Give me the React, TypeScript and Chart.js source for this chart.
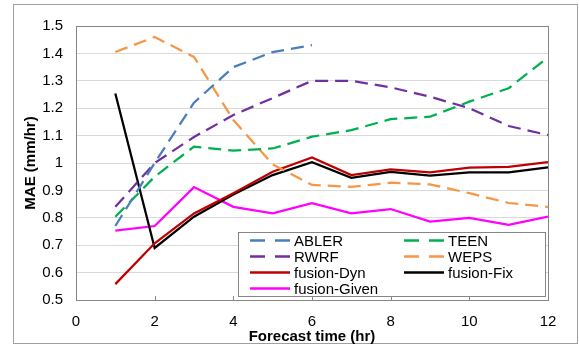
import React, { useEffect, useRef } from "react";
import { Chart, registerables } from "chart.js";

Chart.register(...registerables);

const hours = [1, 2, 3, 4, 5, 6, 7, 8, 9, 10, 11, 12];
const ablerValues = [0.77, 1.0, 1.22, 1.35, 1.405, 1.43];
const teenValues = [0.804, 0.95, 1.06, 1.045, 1.053, 1.096, 1.12, 1.16, 1.169, 1.224, 1.273, 1.386];
const rwrfValues = [0.84, 1.0, 1.095, 1.175, 1.237, 1.3, 1.3, 1.276, 1.242, 1.2, 1.135, 1.102];
const wepsValues = [1.405, 1.46, 1.387, 1.157, 0.995, 0.92, 0.913, 0.928, 0.922, 0.89, 0.854, 0.84];
const dynValues = [0.558, 0.707, 0.816, 0.89, 0.968, 1.02, 0.956, 0.977, 0.966, 0.983, 0.986, 1.003];
const fixValues = [1.254, 0.69, 0.804, 0.885, 0.956, 1.003, 0.946, 0.968, 0.954, 0.966, 0.966, 0.984];
const givenValues = [0.753, 0.77, 0.912, 0.84, 0.816, 0.853, 0.816, 0.832, 0.786, 0.8, 0.774, 0.804];

const seriesNames = ["ABLER", "TEEN", "RWRF", "WEPS", "fusion-Dyn", "fusion-Fix", "fusion-Given"];
const seriesColors = ["#4a7ebb", "#00b050", "#7030a0", "#f79646", "#c00000", "#000000", "#ff00ff"];
const seriesDashed = [true, true, true, true, false, false, false];
const seriesValues = [ablerValues, teenValues, rwrfValues, wepsValues, dynValues, fixValues, givenValues];

const xTicks = [0, 2, 4, 6, 8, 10, 12];
const FONT = "'Liberation Sans', Arial, sans-serif";

export default function App() {
  const ref = useRef<HTMLCanvasElement | null>(null);

  useEffect(() => {
    if (!ref.current) return;

    const framePlugin = {
      id: "frame",
      beforeDraw(chart: any) {
        const ctx = chart.ctx;
        ctx.save();
        ctx.fillStyle = "#ffffff";
        ctx.fillRect(0, 0, chart.width, chart.height);
        ctx.strokeStyle = "#a0a0a0";
        ctx.lineWidth = 1;
        ctx.strokeRect(13.5, 4.5, 564, 339);
        ctx.restore();
      },
      beforeDatasetsDraw(chart: any) {
        const { ctx, chartArea } = chart;
        const xs = chart.scales.x;
        ctx.save();
        ctx.strokeStyle = "#868686";
        ctx.lineWidth = 1;
        ctx.beginPath();
        ctx.moveTo(chartArea.left, Math.round(chartArea.top) + 0.5);
        ctx.lineTo(chartArea.right, Math.round(chartArea.top) + 0.5);
        ctx.moveTo(Math.round(chartArea.right) + 0.5, chartArea.top);
        ctx.lineTo(Math.round(chartArea.right) + 0.5, chartArea.bottom);
        for (const t of xTicks) {
          const px = Math.round(xs.getPixelForValue(t)) + 0.5;
          ctx.moveTo(px, chartArea.bottom);
          ctx.lineTo(px, chartArea.bottom - 4);
        }
        ctx.stroke();
        ctx.restore();
      },
      afterDatasetsDraw(chart: any) {
        const ctx = chart.ctx;
        ctx.save();
        ctx.fillStyle = "#ffffff";
        ctx.fillRect(238, 232, 308, 65);
        ctx.strokeStyle = "#868686";
        ctx.lineWidth = 1;
        ctx.strokeRect(238.5, 232.5, 307, 64);
        const order = [0, 1, 2, 3, 4, 5, 6];
        const colX = [250, 404];
        const rowY = [240.5, 256.5, 272.5, 288.5];
        ctx.font = `15px ${FONT}`;
        ctx.textBaseline = "middle";
        ctx.textAlign = "left";
        order.forEach((idx, i) => {
          const col = i % 2;
          const row = Math.floor(i / 2);
          const x0 = colX[col];
          const y = rowY[row];
          ctx.strokeStyle = seriesColors[idx];
          ctx.lineWidth = 2.5;
          ctx.beginPath();
          if (seriesDashed[idx]) {
            ctx.moveTo(x0, y);
            ctx.lineTo(x0 + 15, y);
            ctx.moveTo(x0 + 25, y);
            ctx.lineTo(x0 + 40, y);
          } else {
            ctx.moveTo(x0, y);
            ctx.lineTo(x0 + 40, y);
          }
          ctx.stroke();
          ctx.fillStyle = "#000000";
          ctx.fillText(seriesNames[idx], x0 + 44, y + 1);
        });
        ctx.restore();
      },
    };

    const datasets = seriesNames.map((name, i) => ({
      label: name,
      data: seriesValues[i].map((v, j) => ({ x: hours[j], y: v })),
      borderColor: seriesColors[i],
      backgroundColor: seriesColors[i],
      borderWidth: 2.25,
      borderDash: seriesDashed[i] ? [13, 7] : [],
      pointRadius: 0,
      tension: 0,
      fill: false,
    }));

    const chart = new Chart(ref.current, {
      type: "line",
      data: { datasets },
      plugins: [framePlugin],
      options: {
        responsive: false,
        animation: false,
        layout: { padding: { left: 0, top: 26, right: 31, bottom: 0 } },
        plugins: {
          legend: { display: false },
          tooltip: { enabled: false },
        },
        scales: {
          x: {
            type: "linear",
            min: 0,
            max: 12,
            afterBuildTicks: (scale: any) => {
              scale.ticks = xTicks.map((v) => ({ value: v }));
            },
            afterFit: (scale: any) => {
              scale.height = 47;
            },
            grid: { display: false, drawTicks: false },
            border: { display: true, color: "#868686", width: 1 },
            ticks: {
              color: "#000000",
              font: { family: FONT, size: 15 },
              padding: 13,
              maxRotation: 0,
              autoSkip: false,
            },
            title: {
              display: true,
              text: "Forecast time (hr)",
              color: "#000000",
              font: { family: FONT, size: 15, weight: "bold" },
              padding: { top: 0, bottom: 1 },
            },
          },
          y: {
            type: "linear",
            min: 0.5,
            max: 1.5,
            afterBuildTicks: (scale: any) => {
              const t = [];
              for (let i = 0; i <= 10; i++) t.push({ value: Math.round((0.5 + i * 0.1) * 10) / 10 });
              scale.ticks = t;
            },
            afterFit: (scale: any) => {
              scale.width = 76;
            },
            grid: { color: "#d9d9d9", lineWidth: 1, drawTicks: false },
            border: { display: true, color: "#868686", width: 1 },
            ticks: {
              color: "#000000",
              font: { family: FONT, size: 15 },
              padding: 13,
              autoSkip: false,
              callback: (v: any) => String(parseFloat(Number(v).toFixed(1))),
            },
            title: {
              display: true,
              text: "MAE (mm/hr)",
              color: "#000000",
              font: { family: FONT, size: 15, weight: "bold" },
              padding: { top: 22, bottom: 0 },
            },
          },
        },
      },
    });

    return () => chart.destroy();
  }, []);

  return (
    <div style={{ position: "fixed", left: 0, top: 0, width: 579, height: 347, background: "#fff" }}>
      <canvas ref={ref} width={579} height={347} style={{ display: "block", width: 579, height: 347 }} />
    </div>
  );
}
